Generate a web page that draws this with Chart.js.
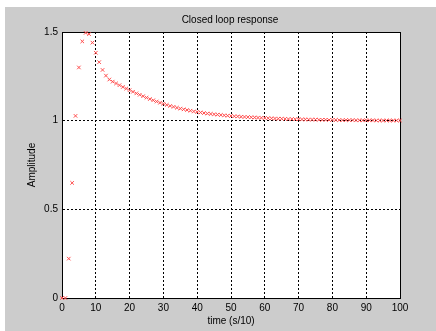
<!DOCTYPE html>
<html>
<head>
<meta charset="utf-8">
<script src="https://cdn.jsdelivr.net/npm/chart.js@4"></script>
<style>
    body { margin: 0; background: #ffffff; }
    #frame { position: absolute; left: 5px; top: 7px; width: 431px; height: 324px; background: #cccccc; }
    #wrap { position: absolute; left: 0; top: 0; width: 436px; height: 331px; }
</style>
</head>
<body>
<div id="frame"></div>
<div id="wrap"><canvas id="responseChart" width="436" height="331"></canvas></div>
<script>
// time steps (s/10)
const times = [
    0, 1, 2, 3, 4, 5, 6, 7, 8, 9,
    10, 11, 12, 13, 14, 15, 16, 17, 18, 19,
    20, 21, 22, 23, 24, 25, 26, 27, 28, 29,
    30, 31, 32, 33, 34, 35, 36, 37, 38, 39,
    40, 41, 42, 43, 44, 45, 46, 47, 48, 49,
    50, 51, 52, 53, 54, 55, 56, 57, 58, 59,
    60, 61, 62, 63, 64, 65, 66, 67, 68, 69,
    70, 71, 72, 73, 74, 75, 76, 77, 78, 79,
    80, 81, 82, 83, 84, 85, 86, 87, 88, 89,
    90, 91, 92, 93, 94, 95, 96, 97, 98, 99, 100
];

// amplitude
const amplitude = [
    0.000, 0.000, 0.222, 0.649, 1.027, 1.300, 1.447, 1.495, 1.488, 1.440,
    1.383, 1.330, 1.286, 1.254, 1.232, 1.220, 1.210, 1.200, 1.190, 1.181,
    1.172, 1.163, 1.154, 1.146, 1.138, 1.130, 1.122, 1.115, 1.108, 1.101,
    1.095, 1.089, 1.083, 1.078, 1.073, 1.068, 1.064, 1.060, 1.056, 1.052,
    1.049, 1.046, 1.043, 1.040, 1.038, 1.036, 1.034, 1.032, 1.030, 1.028,
    1.027, 1.025, 1.024, 1.022, 1.021, 1.020, 1.019, 1.018, 1.017, 1.016,
    1.015, 1.014, 1.013, 1.012, 1.011, 1.011, 1.010, 1.009, 1.009, 1.008,
    1.008, 1.007, 1.007, 1.006, 1.006, 1.006, 1.005, 1.005, 1.005, 1.004,
    1.004, 1.004, 1.003, 1.003, 1.003, 1.003, 1.003, 1.002, 1.002, 1.002,
    1.002, 1.002, 1.002, 1.001, 1.001, 1.001, 1.001, 1.001, 1.001, 1.001, 1.001
];

const xTicks = [0, 10, 20, 30, 40, 50, 60, 70, 80, 90, 100];
const yTicks = [0, 0.5, 1, 1.5];
const chartTitle = 'Closed loop response';

const fontFamily = "'Liberation Sans', Arial, sans-serif";
const baseFont = { family: fontFamily, size: 10, lineHeight: 1.2 };

// white plot area, black box and the title centred over the axes
const axesBox = {
    id: 'axesBox',
    beforeDraw(chart) {
        const a = chart.chartArea;
        const ctx = chart.ctx;
        ctx.save();
        ctx.fillStyle = '#ffffff';
        ctx.fillRect(a.left, a.top, a.right - a.left, a.bottom - a.top);
        ctx.restore();
    },
    beforeDatasetsDraw(chart) {
        const a = chart.chartArea;
        const ctx = chart.ctx;
        ctx.save();
        ctx.strokeStyle = '#000000';
        ctx.lineWidth = 1;
        ctx.strokeRect(Math.round(a.left) + 0.5, Math.round(a.top) + 0.5,
            Math.round(a.right - a.left), Math.round(a.bottom - a.top));
        ctx.fillStyle = '#000000';
        ctx.font = '10px ' + fontFamily;
        ctx.textAlign = 'center';
        ctx.textBaseline = 'middle';
        ctx.fillText(chartTitle, (a.left + a.right) / 2 - 1, 20.5);
        ctx.restore();
    }
};

const ctx = document.getElementById('responseChart').getContext('2d');

new Chart(ctx, {
    type: 'scatter',
    data: {
        datasets: [{
            label: 'response',
            data: times.map((t, i) => ({ x: t, y: amplitude[i] })),
            pointStyle: 'crossRot',
            pointRadius: 2.5,
            pointHoverRadius: 2.5,
            borderWidth: 1,
            borderColor: '#ff4d4d',
            backgroundColor: '#ff4d4d',
            showLine: false,
            clip: false
        }]
    },
    options: {
        responsive: false,
        animation: false,
        layout: {
            padding: { top: 32, right: 36, bottom: 0, left: 0 }
        },
        plugins: {
            legend: { display: false },
            tooltip: { enabled: false },
            title: { display: false }
        },
        scales: {
            x: {
                type: 'linear',
                min: 0,
                max: 100,
                afterFit: function(scale) { scale.height = 33; },
                afterBuildTicks: function(scale) {
                    scale.ticks = xTicks.map(v => ({ value: v }));
                },
                grid: {
                    color: '#000000',
                    lineWidth: 1,
                    drawTicks: false
                },
                border: { display: true, color: '#000000', dash: [2, 2] },
                ticks: {
                    color: '#000000',
                    font: baseFont,
                    padding: 4,
                    maxRotation: 0,
                    callback: v => String(v)
                },
                title: {
                    display: true,
                    text: 'time (s/10)',
                    color: '#000000',
                    font: baseFont,
                    padding: { top: 0, bottom: 4 }
                }
            },
            y: {
                type: 'linear',
                min: 0,
                max: 1.5,
                afterFit: function(scale) { scale.width = 62; },
                afterBuildTicks: function(scale) {
                    scale.ticks = yTicks.map(v => ({ value: v }));
                },
                grid: {
                    color: '#000000',
                    lineWidth: 1,
                    drawTicks: false
                },
                border: { display: true, color: '#000000', dash: [2, 2] },
                ticks: {
                    color: '#000000',
                    font: baseFont,
                    padding: 4,
                    callback: v => String(v)
                },
                title: {
                    display: true,
                    text: 'Amplitude',
                    color: '#000000',
                    font: baseFont,
                    padding: { top: 26, bottom: 0 }
                }
            }
        }
    },
    plugins: [axesBox]
});
</script>
</body>
</html>
